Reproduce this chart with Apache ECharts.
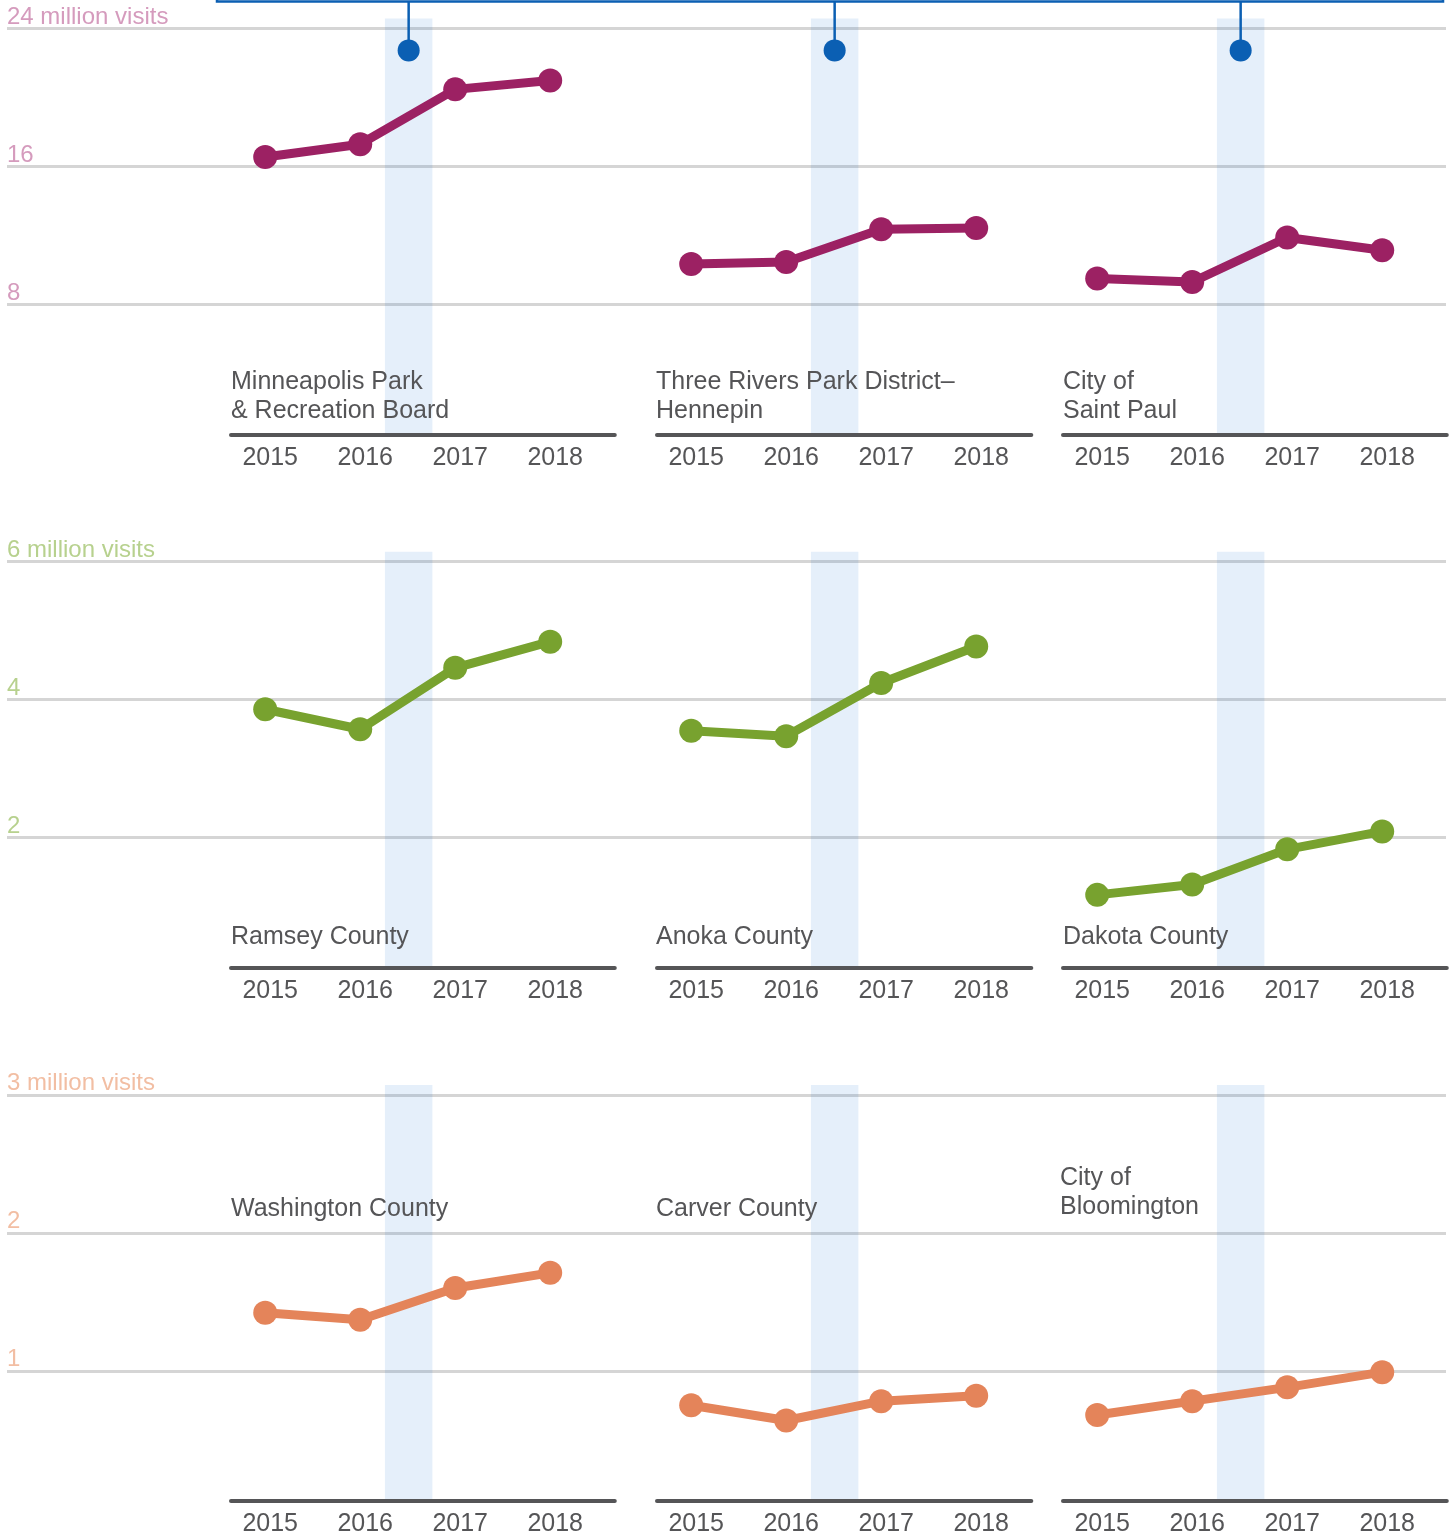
<!DOCTYPE html>
<html><head><meta charset="utf-8">
<script src="https://cdn.jsdelivr.net/npm/echarts@6/dist/echarts.min.js"></script>
<style>html,body{margin:0;padding:0;background:#fff}#c{width:1456px;height:1538px}</style>
</head><body><div id="c"></div>
<script>
// ---------- data ----------
const years = [2015, 2016, 2017, 2018];
const minneapolis = [16.54, 17.28, 20.46, 20.97];
const threeRivers = [10.34, 10.45, 12.35, 12.42];
const saintPaul   = [9.49, 9.29, 11.87, 11.13];
const ramsey      = [3.86, 3.57, 4.46, 4.84];
const anoka       = [3.55, 3.47, 4.24, 4.77];
const dakota      = [1.17, 1.32, 1.83, 2.09];
const washington  = [1.42, 1.37, 1.60, 1.71];
const carver      = [0.75, 0.64, 0.78, 0.82];
const bloomington = [0.68, 0.78, 0.88, 0.99];

const rowMax = [24, 6, 3];
const rowTickLabels = [
  ['', '8', '16', '24 million visits'],
  ['', '2', '4', '6 million visits'],
  ['', '1', '2', '3 million visits']
];
const panelNames = [
  ['Minneapolis Park\n& Recreation Board', 'Three Rivers Park District–\nHennepin', 'City of\nSaint Paul'],
  ['Ramsey County', 'Anoka County', 'Dakota County'],
  ['Washington County', 'Carver County', 'City of\nBloomington']
];
const panelValues = [
  [minneapolis, threeRivers, saintPaul],
  [ramsey, anoka, dakota],
  [washington, carver, bloomington]
];
const highlightYears = [2016.26, 2016.76];
const calloutValue = 22.72;

// ---------- layout / style ----------
const FONT = "'Liberation Sans', Arial, sans-serif";
const rowTop = [28.3, 561.6, 1094.8];
const rowH = 414;
const axisLift = 8;
const bandOver = 9.8;
const colLeft = [231, 657, 1063];
const pxPerYear = 95;
const xMin = 2014.64;
const colXMax = [2018.68, 2018.58, 2018.68];
const lineColors = ['#9c2163', '#78a22f', '#e4845a'];
const labelColors = ['#d59bbd', '#b7d18e', '#f2bea3'];
const textGray = '#555557';
const titleTop = [[368, 368, 368], [922.5, 922.5, 922.5], [1194.5, 1194.5, 1163.5]];
const titleLeft = [[231, 656, 1063], [231, 656, 1063], [231, 656, 1060]];

const grids = [], xAxes = [], yAxes = [], series = [], titles = [];
const topPanelAxis = [];

for (let r = 0; r < 3; r++) {
  const M = rowMax[r];
  const step = M / 3;
  let gi = grids.length;
  grids.push({left: 7, right: 10, top: rowTop[r], height: rowH, outerBoundsMode: 'none'});
  xAxes.push({gridIndex: gi, type: 'value', min: 0, max: 1, show: false});
  yAxes.push({
    gridIndex: gi, type: 'value', min: 0, max: M, interval: step,
    axisLine: {show: false}, axisTick: {show: false},
    splitLine: {show: true, showMinLine: false, lineStyle: {color: '#d5d5d5', width: 3}},
    axisLabel: {
      inside: true, margin: 0, align: 'left', verticalAlign: 'bottom', lineHeight: 22,
      fontSize: 24, fontFamily: FONT, color: labelColors[r],
      formatter: v => rowTickLabels[r][Math.round(v / step)] || ''
    }
  });
  series.push({type: 'line', xAxisIndex: gi, yAxisIndex: gi, data: [], silent: true});

  const pxPerUnit = rowH / M;
  for (let c = 0; c < 3; c++) {
    gi = grids.length;
    grids.push({
      left: colLeft[c], top: rowTop[r] - bandOver,
      width: (colXMax[c] - xMin) * pxPerYear,
      height: rowH + bandOver - axisLift, outerBoundsMode: 'none'
    });
    xAxes.push({
      gridIndex: gi, type: 'value', min: xMin, max: colXMax[c], z: 3,
      axisLine: {show: true, onZero: false, lineStyle: {color: textGray, width: 4}},
      axisTick: {show: false}, splitLine: {show: false},
      axisLabel: {
        fontSize: 25, fontFamily: FONT, color: textGray, margin: 11,
        showMinLabel: false, showMaxLabel: false, padding: [0, 0, 0, 10],
        formatter: v => (Math.abs(v - Math.round(v)) < 1e-6 ? String(Math.round(v)) : '')
      }
    });
    yAxes.push({
      gridIndex: gi, type: 'value', show: false,
      min: axisLift / pxPerUnit, max: M + bandOver / pxPerUnit
    });
    const vals = panelValues[r][c];
    series.push({
      type: 'line', xAxisIndex: gi, yAxisIndex: gi, silent: true,
      data: years.map((y, i) => [y, vals[i]]),
      symbol: 'circle', symbolSize: 24, showAllSymbol: true,
      lineStyle: {width: 9, color: lineColors[r]},
      itemStyle: {color: lineColors[r]},
      z: 5,
      markArea: {
        silent: true, z: 1,
        itemStyle: {color: 'rgba(0,102,204,0.1)'},
        data: [[{xAxis: highlightYears[0]}, {xAxis: highlightYears[1]}]]
      }
    });
    if (r === 0) topPanelAxis.push(gi);
    titles.push({
      text: panelNames[r][c], left: titleLeft[r][c], top: titleTop[r][c], padding: 0,
      textStyle: {fontSize: 25, fontWeight: 'normal', color: textGray, fontFamily: FONT, lineHeight: 29}
    });
  }
}

const chart = echarts.init(document.getElementById('c'), null, {renderer: 'canvas'});
chart.setOption({
  animation: false,
  backgroundColor: '#ffffff',
  title: titles,
  grid: grids, xAxis: xAxes, yAxis: yAxes, series: series
});

// callout bracket with stems pointing at the highlighted period in the top row
const blue = '#0b5fb3';
const bracketY = 1.5;
const mid = (highlightYears[0] + highlightYears[1]) / 2;
const gfx = [{
  type: 'polyline', silent: true,
  shape: {points: [[217, -5], [217, bracketY], [1443, bracketY], [1443, -5]]},
  style: {stroke: blue, lineWidth: 2.5, fill: null}, z: 10
}];
topPanelAxis.forEach(k => {
  const p = chart.convertToPixel({xAxisIndex: k, yAxisIndex: k}, [mid, calloutValue]);
  gfx.push({type: 'line', silent: true, shape: {x1: p[0], y1: bracketY, x2: p[0], y2: p[1]},
    style: {stroke: blue, lineWidth: 2.5}, z: 10});
  gfx.push({type: 'circle', silent: true, shape: {cx: p[0], cy: p[1], r: 11},
    style: {fill: blue}, z: 10});
});
chart.setOption({graphic: gfx});
</script>
</body></html>
